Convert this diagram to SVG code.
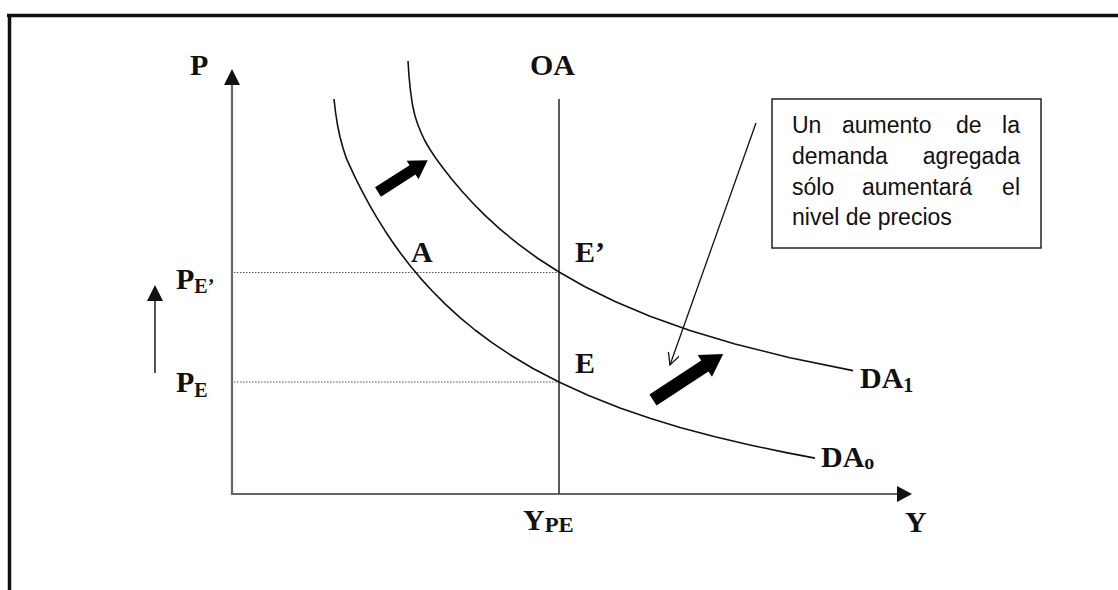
<svg xmlns="http://www.w3.org/2000/svg" width="1118" height="590" viewBox="0 0 1118 590">
<style>
.lbl{font-family:"Liberation Serif","Times New Roman",serif;font-weight:bold;font-size:30px;fill:#111}
.sub{font-size:20px}
.box{font-family:"Liberation Sans",Arial,sans-serif;font-size:23px;fill:#111}
.curve{fill:none;stroke:#111;stroke-width:1.6;stroke-linejoin:round}
.axis{fill:none;stroke:#666;stroke-width:2.2}
.dot{fill:none;stroke:#555;stroke-width:1;stroke-dasharray:1.5 1.5}
</style>
<defs>
<marker id="open" markerWidth="14" markerHeight="14" refX="12" refY="6" orient="auto" markerUnits="userSpaceOnUse">
<path d="M0,0 L12,6 L0,12" fill="none" stroke="#111" stroke-width="1.3"/>
</marker>
</defs>
<rect width="1118" height="590" fill="#fff"/>
<g id="frame">
<line x1="7" y1="15.5" x2="1118" y2="15.5" stroke="#111" stroke-width="3.5"/>
<line x1="9.5" y1="14" x2="9.5" y2="590" stroke="#111" stroke-width="3.5"/>
</g>
<g id="axes">
<line class="axis" x1="232" y1="84" x2="232" y2="494"/>
<polygon points="232,69 224,85 240,85" fill="#111"/>
<line class="axis" x1="231" y1="494" x2="898" y2="494"/>
<polygon points="912,494 897,486 897,502" fill="#111"/>
<text class="lbl" x="190" y="75">P</text>
<text class="lbl" x="905" y="532">Y</text>
</g>
<g id="connectors">
<line class="dot" x1="234" y1="272.5" x2="559" y2="272.5"/>
<line class="dot" x1="234" y1="382" x2="559" y2="382"/>
<line x1="559" y1="99" x2="559" y2="494" stroke="#333" stroke-width="1.6"/>
<polyline id="da0" class="curve" points="334,99 335.5,112 337.5,125 340,137 343,148 346.5,158.7 350,166.4 355,177.2 360,187.1 365,196.7 370,205.8 377,217.9 385,230.7 392,241.2 400,252.5 410,265.5 420,277.6 432,290.8 445,303.9 460,317.6 475,330 492,342.7 510,354.7 533,368.5 559,382 588,395.2 620,407.9 650,418.2 680,427.4 715,436.8 750,445 785,452.4 815,458.1"/>
<polyline id="da1" class="curve" points="408,61 409,76 410.5,91 412.5,105 415,116 418,125 421,132.5 425,141 430,149.5 436,158.5 443,168 452,179.5 462,191.3 473,203.3 485,215.4 500,229.1 518,243.9 538,258.5 559,272 585,286.8 615,301.5 650,316.3 690,330.5 735,344 790,357.7 853,370.6"/>
<line x1="756" y1="123" x2="670" y2="365" stroke="#111" stroke-width="1.3" marker-end="url(#open)"/>
<line x1="155" y1="373" x2="155" y2="298" stroke="#555" stroke-width="2"/>
<polygon points="155,285 147,301 163,301" fill="#111"/>
<polygon transform="translate(378,192) rotate(-32.6)" points="0,-5.5 41,-5.5 41,-11 59,0 41,11 41,5.5 0,5.5" fill="#000"/>
<polygon transform="translate(653,400) rotate(-33.3)" points="0,-6.5 62,-6.5 62,-13 84,0 62,13 62,6.5 0,6.5" fill="#000"/>
</g>
<g id="OA"><text class="lbl" x="530" y="75">OA</text></g>
<g id="A"><text class="lbl" x="411" y="262">A</text></g>
<g id="Eprime"><text class="lbl" x="575" y="262">E’</text></g>
<g id="E"><text class="lbl" x="575" y="373">E</text></g>
<g id="PEprime"><text class="lbl" x="176" y="289">P<tspan class="sub" dy="4">E’</tspan></text></g>
<g id="PE"><text class="lbl" x="176" y="392">P<tspan class="sub" dy="5">E</tspan></text></g>
<g id="YPE"><text class="lbl" x="523" y="530">Y<tspan class="sub" dy="2" textLength="29" lengthAdjust="spacingAndGlyphs">PE</tspan></text></g>
<g id="DA1"><text class="lbl" x="860" y="388">DA<tspan class="sub" dy="4">1</tspan></text></g>
<g id="DA0"><text class="lbl" x="821" y="467">DA<tspan class="sub" dy="2">o</tspan></text></g>
<g id="note">
<rect x="772" y="99" width="269" height="149" fill="#fff" stroke="#222" stroke-width="1.5"/>
<text class="box" y="133"><tspan x="792">Un</tspan><tspan x="842">aumento</tspan><tspan x="956">de</tspan><tspan x="1020" text-anchor="end">la</tspan></text>
<text class="box" y="164"><tspan x="792">demanda</tspan><tspan x="1020" text-anchor="end">agregada</tspan></text>
<text class="box" y="195"><tspan x="792">sólo</tspan><tspan x="862">aumentará</tspan><tspan x="1020" text-anchor="end">el</tspan></text>
<text class="box" x="792" y="225">nivel de precios</text>
</g>
</svg>
